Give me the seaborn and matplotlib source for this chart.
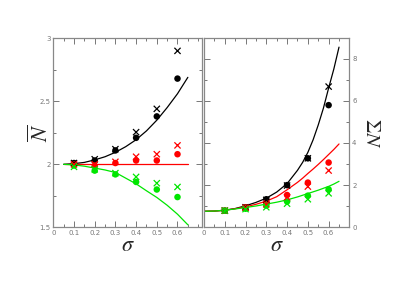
import numpy as np
import pandas as pd
import seaborn as sns
import matplotlib.pyplot as plt
from matplotlib.ticker import MultipleLocator, FixedLocator

# Datos
sigma = [0.1, 0.2, 0.3, 0.4, 0.5, 0.6]
grupos = ['negro', 'rojo', 'verde']
colores = {'negro': 'black', 'rojo': '#ff0000', 'verde': '#00e600'}

# Panel izquierdo: N medio (puntos = circulos, cruces = x)
n_circ_negro = [2.01, 2.03, 2.11, 2.21, 2.38, 2.68]
n_circ_rojo = [2.00, 1.99, 2.01, 2.03, 2.03, 2.08]
n_circ_verde = [1.99, 1.95, 1.92, 1.86, 1.80, 1.74]
n_cruz_negro = [2.01, 2.04, 2.12, 2.255, 2.44, 2.90]
n_cruz_rojo = [2.00, 2.00, 2.02, 2.06, 2.08, 2.15]
n_cruz_verde = [1.98, 1.96, 1.93, 1.90, 1.85, 1.82]

# Curvas teoricas del panel izquierdo
sigma_curva_izq = [0.05, 0.1, 0.15, 0.2, 0.25, 0.3, 0.35, 0.4, 0.45, 0.5, 0.55, 0.6, 0.65]
n_curva_negro = [2.0, 2.005, 2.015, 2.035, 2.06, 2.095, 2.14, 2.195, 2.265, 2.35, 2.45, 2.56, 2.69]
n_curva_rojo = [2.0] * 13
n_curva_verde = [2.0, 1.995, 1.985, 1.97, 1.955, 1.935, 1.89, 1.845, 1.79, 1.737, 1.675, 1.604, 1.52]

# Panel derecho: Sigma N
s_circ_negro = [0.79, 0.95, 1.33, 2.0, 3.27, 5.79]
s_circ_rojo = [0.79, 0.94, 1.17, 1.53, 2.12, 3.07]
s_circ_verde = [0.79, 0.88, 1.03, 1.22, 1.50, 1.80]
s_cruz_negro = [0.79, 0.95, 1.30, 1.98, 3.27, 6.67]
s_cruz_rojo = [0.79, 0.93, 1.09, 1.42, 1.93, 2.69]
s_cruz_verde = [0.79, 0.86, 0.95, 1.12, 1.33, 1.61]

sigma_curva_der = [0.0, 0.05, 0.1, 0.15, 0.2, 0.25, 0.3, 0.35, 0.4, 0.45,
                   0.475, 0.5, 0.525, 0.55, 0.575, 0.6, 0.625, 0.65]
s_curva_negro = [0.76, 0.77, 0.81, 0.89, 1.02, 1.18, 1.38, 1.67, 2.07, 2.7,
                 3.08, 3.55, 4.14, 4.85, 5.65, 6.6, 7.5, 8.54]
s_curva_rojo = [0.76, 0.77, 0.81, 0.88, 0.97, 1.09, 1.24, 1.45, 1.78, 2.13,
                2.33, 2.55, 2.76, 2.98, 3.21, 3.45, 3.69, 3.95]
s_curva_verde = [0.76, 0.77, 0.81, 0.87, 0.94, 1.01, 1.10, 1.19, 1.30, 1.44,
                 1.52, 1.60, 1.68, 1.76, 1.85, 1.94, 2.05, 2.18]


def tabla(x, series):
    filas = []
    for g, vals in zip(grupos, series):
        for xi, yi in zip(x, vals):
            filas.append({'sigma': xi, 'valor': yi, 'grupo': g})
    return pd.DataFrame(filas)


izq_circ = tabla(sigma, [n_circ_negro, n_circ_rojo, n_circ_verde])
izq_cruz = tabla(sigma, [n_cruz_negro, n_cruz_rojo, n_cruz_verde])
izq_curva = tabla(sigma_curva_izq, [n_curva_negro, n_curva_rojo, n_curva_verde])
der_circ = tabla(sigma, [s_circ_negro, s_circ_rojo, s_circ_verde])
der_cruz = tabla(sigma, [s_cruz_negro, s_cruz_rojo, s_cruz_verde])
der_curva = tabla(sigma_curva_der, [s_curva_negro, s_curva_rojo, s_curva_verde])

sns.set_style('ticks')
plt.rcParams['mathtext.fontset'] = 'stix'

fig = plt.figure(figsize=(4.05, 2.86), dpi=100)
ax1 = fig.add_axes([0.1316, 0.2052, 0.368, 0.661])
ax2 = fig.add_axes([0.5037, 0.2052, 0.359, 0.661])

for ax, curva, circ, cruz in [(ax1, izq_curva, izq_circ, izq_cruz),
                              (ax2, der_curva, der_circ, der_cruz)]:
    sns.lineplot(data=curva, x='sigma', y='valor', hue='grupo', palette=colores,
                 linewidth=0.9, legend=False, estimator=None, ax=ax)
    sns.scatterplot(data=circ, x='sigma', y='valor', hue='grupo', palette=colores,
                    marker='o', s=22, linewidth=0, legend=False, ax=ax, zorder=3)
    sns.scatterplot(data=cruz, x='sigma', y='valor', hue='grupo', palette=colores,
                    marker='x', s=20, linewidth=0.9, legend=False, ax=ax, zorder=3)

    ax.xaxis.set_major_locator(FixedLocator([0, 0.1, 0.2, 0.3, 0.4, 0.5, 0.6]))
    ax.set_xticklabels(['0', '0.1', '0.2', '0.3', '0.4', '0.5', '0.6'])
    ax.xaxis.set_minor_locator(MultipleLocator(0.05))
    ax.tick_params(which='both', direction='in', top=True, right=True,
                   colors='#777777', labelsize=5, pad=2)
    ax.tick_params(which='major', length=4, width=0.7)
    ax.tick_params(which='minor', length=2.5, width=0.7)
    for sp in ax.spines.values():
        sp.set_color('#888888')
        sp.set_linewidth(0.9)
    ax.set_xlabel(r'$\sigma$', fontsize=16, labelpad=-1)

ax1.set_xlim(0, 0.72)
ax1.set_ylim(1.5, 3)
ax1.set_yticks([1.5, 2, 2.5, 3])
ax1.set_yticklabels(['1.5', '2', '2.5', '3'])
ax1.yaxis.set_minor_locator(MultipleLocator(0.25))
ax1.set_ylabel(r'$\overline{N}$', fontsize=16, labelpad=-9)

ax2.set_xlim(0, 0.70)
ax2.set_ylim(0, 8.96)
ax2.set_yticks([0, 2, 4, 6, 8])
ax2.yaxis.set_minor_locator(MultipleLocator(1))
ax2.tick_params(labelleft=False, labelright=True)
ax2.yaxis.set_label_position('right')
ax2.set_ylabel(r'$\Sigma N$', fontsize=15, rotation=270, labelpad=18)

fig.savefig('out.png', dpi=100)
